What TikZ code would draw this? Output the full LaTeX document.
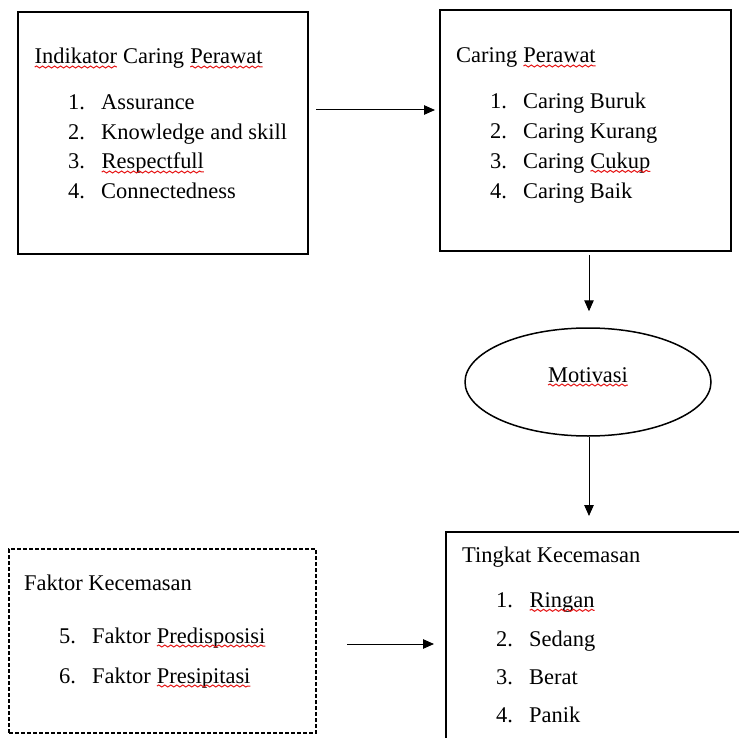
\documentclass[tikz,border=0pt]{standalone}
\usepackage{fontspec}
\setmainfont{Liberation Serif}
\usetikzlibrary{arrows.meta,shapes.geometric,decorations.pathmorphing}
\definecolor{wavered}{RGB}{230,20,20}
\tikzset{
  frame/.style={draw=black, line width=2pt, inner sep=0pt},
  dashframe/.style={frame, dash pattern=on 4pt off 2pt},
  oval/.style={ellipse, draw=black, line width=1.5pt, inner sep=0pt},
  arr/.style={-{Triangle[length=11pt,width=9.5pt]}, line width=1pt},
  txt/.style={anchor=base west, inner sep=0pt, font=\fontsize{22.45}{27}\selectfont},
  ctxt/.style={txt, anchor=base},
  wave/.style={draw=wavered, line width=1pt, decorate, decoration={snake, amplitude=1pt, segment length=6pt}}
}
\newcommand\sq[1]{\tikz[baseline=(sqw.base)]{\node[inner sep=0pt,outer sep=0pt,anchor=base] (sqw) {#1};\draw[wave] ([yshift=-3pt]sqw.base west) -- ([yshift=-3pt]sqw.base east);}}
\begin{document}
\begin{tikzpicture}[x=1pt,y=-1pt]
\fill[white] (0,0) rectangle (739,738);
\useasboundingbox (0,0) rectangle (739,738);

% boxes
\node[frame, minimum width=290pt, minimum height=242pt] (b1) at (163,133) {};
\node[frame, minimum width=291pt, minimum height=241pt] (b2) at (585.5,130.5) {};
\node[oval, minimum width=246pt, minimum height=108pt] (mot) at (588,382) {};
\node[dashframe, minimum width=307pt, minimum height=184pt] (b4) at (162.5,641) {};
\node[frame, minimum width=314pt, minimum height=228pt] (b5) at (603,646) {};

% box 1 text
\node[txt] (t1) at (34,64) {\sq{Indikator} Caring \sq{Perawat}};
\node[txt] (n11) at (68,110) {1.};
\node[txt] (i11) at (101,110) {Assurance};
\node[txt] (n12) at (68,139.5) {2.};
\node[txt] (i12) at (101,139.5) {Knowledge and skill};
\node[txt] (n13) at (68,169) {3.};
\node[txt] (i13) at (101,169) {\sq{Respectfull}};
\node[txt] (n14) at (68,198.5) {4.};
\node[txt] (i14) at (101,198.5) {Connectedness};

% box 2 text
\node[txt] (t2) at (456,63) {Caring \sq{Perawat}};
\node[txt] (n21) at (490,108.3) {1.};
\node[txt] (i21) at (523,108.3) {Caring Buruk};
\node[txt] (n22) at (490,138.3) {2.};
\node[txt] (i22) at (523,138.3) {Caring Kurang};
\node[txt] (n23) at (490,168.3) {3.};
\node[txt] (i23) at (523,168.3) {Caring \sq{Cukup}};
\node[txt] (n24) at (490,198.3) {4.};
\node[txt] (i24) at (523,198.3) {Caring Baik};

% ellipse text
\node[ctxt] (tm) at (588,382) {\sq{Motivasi}};

% box 4 text
\node[txt] (t4) at (24,590) {Faktor Kecemasan};
\node[txt] (n45) at (59,643) {5.};
\node[txt] (i45) at (92,643) {Faktor \sq{Predisposisi}};
\node[txt] (n46) at (59,683) {6.};
\node[txt] (i46) at (92,683) {Faktor \sq{Presipitasi}};

% box 5 text
\node[txt] (t5) at (462,562) {Tingkat Kecemasan};
\node[txt] (n51) at (496,607.3) {1.};
\node[txt] (i51) at (529,607.3) {\sq{Ringan}};
\node[txt] (n52) at (496,646.7) {2.};
\node[txt] (i52) at (529,646.7) {Sedang};
\node[txt] (n53) at (496,684.3) {3.};
\node[txt] (i53) at (529,684.3) {Berat};
\node[txt] (n54) at (496,722.7) {4.};
\node[txt] (i54) at (529,722.7) {Panik};

% connectors
\coordinate (h1) at (0,110);
\coordinate (h2) at (0,644);
\coordinate (v) at (589,0);
\draw[arr, shorten <=7pt, shorten >=4pt] (b1.east |- h1) -- (b2.west |- h1);
\draw[arr, shorten <=3pt, shorten >=16pt] (b2.south -| v) -- (mot.north -| v);
\draw[arr, shorten >=15pt] (mot.south -| v) -- (b5.north -| v);
\draw[arr, shorten <=30pt, shorten >=11pt] (b4.east |- h2) -- (b5.west |- h2);
\end{tikzpicture}
\end{document}
